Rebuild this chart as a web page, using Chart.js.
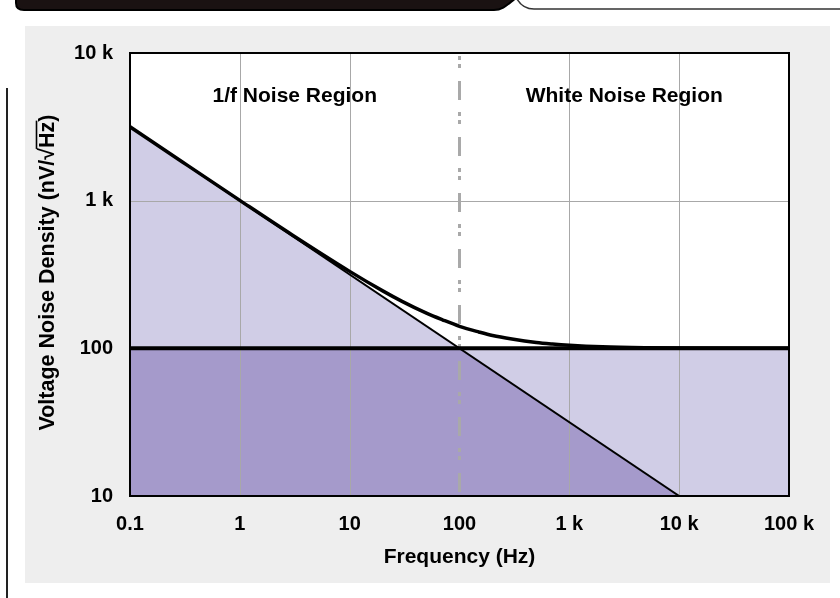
<!DOCTYPE html>
<html lang="en">
  <head>
    <meta charset="UTF-8" />
    <title>Voltage Noise Density vs Frequency</title>
    <script src="https://cdn.jsdelivr.net/npm/chart.js"></script>
    <style>
      html, body {
        margin: 0;
        padding: 0;
        background-color: #fff;
      }
      .page {
        position: relative;
        width: 840px;
        height: 598px;
        overflow: hidden;
      }
      .panel {
        position: absolute;
        left: 25px;
        top: 26px;
        width: 805px;
        height: 557px;
        background-color: #eeeeee;
      }
      .rule {
        position: absolute;
        left: 6px;
        top: 88px;
        width: 2px;
        height: 510px;
        background-color: #222;
      }
      .tab {
        position: absolute;
        left: 0;
        top: 0;
      }
      canvas {
        position: absolute;
        left: 0;
        top: 0;
      }
    </style>
  </head>
  <body>
    <div class="page">
      <div class="panel"></div>
      <div class="rule"></div>
      <svg class="tab" width="840" height="20">
        <path d="M16 -2 H516 C508 4 503 10 494 10 H24 Q16 10 16 3 Z" fill="#1a1212" stroke="#000" stroke-width="2" />
        <path d="M517 -1 C521 6 526 9 534 9 H840" fill="none" stroke="#333" stroke-width="1.5" />
      </svg>
      <canvas id="noiseChart" width="840" height="598"></canvas>
    </div>

    <script>
      const FONT = '"Liberation Sans", Arial, Helvetica, sans-serif';

      // axis ticks
      const xTicks = [0.1, 1, 10, 100, 1000, 10000, 100000];
      const xTickLabels = ["0.1", "1", "10", "100", "1 k", "10 k", "100 k"];
      const yTicks = [10, 100, 1000, 10000];
      const yTickLabels = ["10", "100", "1 k", "10 k"];

      // total noise curve
      const totalFreq = [0.1, 0.3, 1, 3, 10, 20, 30, 50, 70, 100, 150, 200, 300, 500, 700, 1000, 2000, 5000, 10000, 100000];
      const totalNoise = [3164, 1828, 1005, 586, 332, 245, 208, 173, 156, 141, 129, 122, 115.5, 109.5, 107, 105, 102.5, 101, 100.5, 100];

      // 1/f asymptote
      const flickerFreq = [0.1, 10000];
      const flickerNoise = [3162, 10];

      // white noise floor
      const whiteFreq = [0.1, 100000];
      const whiteNoise = [100, 100];

      // corner frequency marker
      const cornerFreq = [100, 100];
      const cornerNoise = [10000, 10];

      // shaded areas
      const lightFreq = [0.1, 100, 100000];
      const lightNoise = [3162, 100, 100];
      const darkFreq = [0.1, 100, 10000];
      const darkNoise = [100, 100, 10];

      const regionLabels = ["1/f Noise Region", "White Noise Region"];

      function toPoints(xs, ys) {
        return xs.map((v, i) => ({ x: v, y: ys[i] }));
      }

      const noiseDecor = {
        id: "noiseDecor",
        beforeDraw(chart) {
          const { ctx, chartArea: a } = chart;
          ctx.save();
          ctx.fillStyle = "#ffffff";
          ctx.fillRect(a.left, a.top, a.right - a.left, a.bottom - a.top);
          ctx.restore();
        },
        beforeDatasetsDraw(chart) {
          // grid sits over the shading but under the curves
          const { ctx, chartArea: a, scales } = chart;
          ctx.save();
          ctx.strokeStyle = "#a8a8a8";
          ctx.lineWidth = 1;
          ctx.beginPath();
          xTicks.forEach((v) => {
            if (v === 100) return;
            const px = Math.round(scales.x.getPixelForValue(v)) + 0.5;
            ctx.moveTo(px, a.top);
            ctx.lineTo(px, a.bottom);
          });
          yTicks.forEach((v) => {
            const py = Math.round(scales.y.getPixelForValue(v)) + 0.5;
            ctx.moveTo(a.left, py);
            ctx.lineTo(a.right, py);
          });
          ctx.stroke();
          ctx.restore();
        },
        afterDatasetsDraw(chart) {
          const { ctx, chartArea: a, scales } = chart;
          ctx.save();
          ctx.strokeStyle = "#000";
          ctx.lineWidth = 2;
          ctx.strokeRect(a.left, a.top, a.right - a.left, a.bottom - a.top);

          const mid = scales.x.getPixelForValue(100);
          ctx.fillStyle = "#000";
          ctx.font = "bold 21px " + FONT;
          ctx.textAlign = "center";
          ctx.textBaseline = "alphabetic";
          ctx.fillText(regionLabels[0], (a.left + mid) / 2, a.top + 49);
          ctx.fillText(regionLabels[1], (mid + a.right) / 2, a.top + 49);
          ctx.restore();
        },
        afterDraw(chart) {
          // y title with a radical over Hz
          const { ctx, chartArea: a } = chart;
          const parts = ["Voltage Noise Density (nV/", "\u221A", "Hz", ")"];
          ctx.save();
          ctx.font = "bold 21.5px " + FONT;
          ctx.fillStyle = "#000";
          ctx.translate(54, (a.top + a.bottom) / 2 - 2);
          ctx.rotate(-Math.PI / 2);
          ctx.textAlign = "left";
          ctx.textBaseline = "alphabetic";
          const widths = parts.map((p) => ctx.measureText(p).width);
          const total = widths.reduce((s, w) => s + w, 0);
          let x = -total / 2;
          parts.forEach((p, i) => {
            ctx.fillText(p, x, 0);
            if (i === 2) {
              ctx.strokeStyle = "#000";
              ctx.lineWidth = 1.6;
              ctx.beginPath();
              ctx.moveTo(x - 1, -17.5);
              ctx.lineTo(x + widths[i] + 1, -17.5);
              ctx.stroke();
            }
            x += widths[i];
          });
          ctx.restore();
        },
      };

      new Chart(document.getElementById("noiseChart"), {
        type: "line",
        data: {
          datasets: [
            {
              label: "White noise",
              data: toPoints(whiteFreq, whiteNoise),
              borderColor: "#000",
              borderWidth: 4,
              pointRadius: 0,
              fill: false,
            },
            {
              label: "Total noise",
              data: toPoints(totalFreq, totalNoise),
              borderColor: "#000",
              borderWidth: 3.5,
              pointRadius: 0,
              cubicInterpolationMode: "monotone",
              fill: false,
            },
            {
              label: "1/f noise",
              data: toPoints(flickerFreq, flickerNoise),
              borderColor: "#000",
              borderWidth: 2,
              pointRadius: 0,
              fill: false,
            },
            {
              label: "Corner",
              data: toPoints(cornerFreq, cornerNoise),
              borderColor: "#a9a9a9",
              borderWidth: 3,
              borderDash: [19, 12, 4, 4, 4, 13],
              borderDashOffset: 28,
              pointRadius: 0,
              fill: false,
            },
            {
              label: "Both",
              data: toPoints(darkFreq, darkNoise),
              borderWidth: 0,
              borderColor: "rgba(0,0,0,0)",
              backgroundColor: "#a59acb",
              pointRadius: 0,
              fill: "start",
            },
            {
              label: "Either",
              data: toPoints(lightFreq, lightNoise),
              borderWidth: 0,
              borderColor: "rgba(0,0,0,0)",
              backgroundColor: "#d0cde6",
              pointRadius: 0,
              fill: "start",
            },
          ],
        },
        options: {
          responsive: false,
          animation: false,
          events: [],
          layout: {
            padding: { top: 53, right: 51, left: 0, bottom: 0 },
          },
          plugins: {
            legend: { display: false },
            tooltip: { enabled: false },
            filler: { drawTime: "beforeDatasetsDraw" },
          },
          scales: {
            x: {
              type: "logarithmic",
              min: 0.1,
              max: 100000,
              afterBuildTicks: (scale) => {
                scale.ticks = xTicks.map((v) => ({ value: v }));
              },
              afterFit: (scale) => {
                scale.height = 102;
              },
              grid: { display: false, drawTicks: false },
              border: { display: false },
              ticks: {
                autoSkip: false,
                maxRotation: 0,
                padding: 16,
                color: "#000",
                font: { family: FONT, size: 20, weight: "bold" },
                callback: (v) => {
                  const i = xTicks.indexOf(v);
                  return i >= 0 ? xTickLabels[i] : "";
                },
              },
              title: {
                display: true,
                text: "Frequency (Hz)",
                color: "#000",
                font: { family: FONT, size: 21, weight: "bold" },
                padding: { top: 0, bottom: 28 },
              },
            },
            y: {
              type: "logarithmic",
              min: 10,
              max: 10000,
              afterBuildTicks: (scale) => {
                scale.ticks = yTicks.map((v) => ({ value: v }));
              },
              afterFit: (scale) => {
                scale.width = 130;
              },
              grid: { display: false, drawTicks: false },
              border: { display: false },
              ticks: {
                autoSkip: false,
                padding: 17,
                color: "#000",
                font: { family: FONT, size: 20, weight: "bold" },
                callback: (v) => {
                  const i = yTicks.indexOf(v);
                  return i >= 0 ? yTickLabels[i] : "";
                },
              },
            },
          },
        },
        plugins: [noiseDecor],
      });
    </script>
  </body>
</html>
